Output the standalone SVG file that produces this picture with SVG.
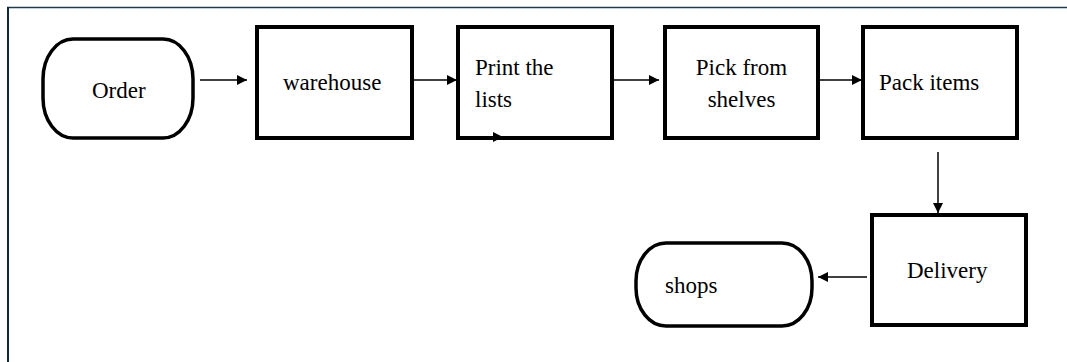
<svg xmlns="http://www.w3.org/2000/svg" width="1067" height="362" viewBox="0 0 1067 362">
  <defs>
    <marker id="arrow" viewBox="0 0 10 10" refX="10" refY="5" markerWidth="10" markerHeight="10" markerUnits="userSpaceOnUse" orient="auto">
      <path d="M0,0 L10,5 L0,10 z" fill="#000"/>
    </marker>
  </defs>
  <style>
    .box { fill: #fff; stroke: #000; stroke-width: 4; }
    .term { fill: #fff; stroke: #000; stroke-width: 3.5; }
    .lbl { font-family: "Liberation Serif", "Times New Roman", serif; font-size: 23px; fill: #000; }
    .edge { stroke: #000; stroke-width: 1.5; fill: none; marker-end: url(#arrow); }
  </style>
  <rect width="1067" height="362" fill="#fff"/>
  <!-- frame -->
  <g id="frame">
    <line x1="7" y1="7.5" x2="1067" y2="7.5" stroke="#1f3a52" stroke-width="1.5"/>
    <line x1="8" y1="7" x2="8" y2="362" stroke="#0d2a40" stroke-width="2"/>
  </g>

  <g id="order">
    <rect class="term" x="43" y="39" width="150" height="99" rx="30" ry="40"/>
    <text class="lbl" x="92" y="98">Order</text>
  </g>
  <g id="warehouse">
    <rect class="box" x="257" y="27" width="155" height="111"/>
    <text class="lbl" x="283" y="90">warehouse</text>
  </g>
  <g id="print">
    <rect class="box" x="458" y="27" width="154" height="111"/>
    <text class="lbl" x="475" y="75">Print the</text>
    <text class="lbl" x="475" y="107">lists</text>
  </g>
  <g id="pick">
    <rect class="box" x="665" y="27" width="153" height="111"/>
    <text class="lbl" x="741.5" y="75" text-anchor="middle">Pick from</text>
    <text class="lbl" x="741.5" y="107" text-anchor="middle">shelves</text>
  </g>
  <g id="pack">
    <rect class="box" x="863" y="27" width="154" height="111"/>
    <text class="lbl" x="879" y="90">Pack items</text>
  </g>
  <g id="delivery">
    <rect class="box" x="872" y="215" width="154" height="110"/>
    <text class="lbl" x="907" y="278">Delivery</text>
  </g>
  <g id="shops">
    <rect class="term" x="636" y="243" width="176" height="83" rx="30" ry="38"/>
    <text class="lbl" x="665" y="293">shops</text>
  </g>

  <g id="connectors">
    <line class="edge" x1="200" y1="80" x2="247" y2="80"/>
    <line class="edge" x1="412" y1="80" x2="457" y2="80"/>
    <line class="edge" x1="613" y1="80" x2="659" y2="80"/>
    <line class="edge" x1="819" y1="80" x2="862" y2="80"/>
    <line class="edge" x1="938" y1="152" x2="938" y2="213"/>
    <line class="edge" x1="867" y1="277" x2="818" y2="277"/>
    <path d="M493,132 L503,137 L493,142 z" fill="#000"/>
  </g>
</svg>
